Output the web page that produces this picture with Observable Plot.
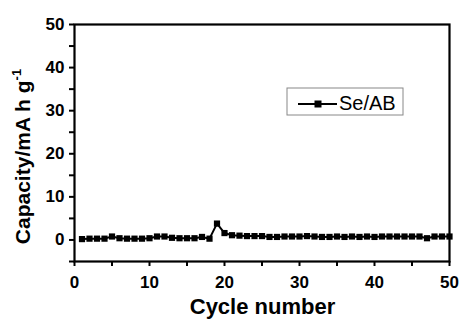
<!DOCTYPE html>
<html><head><meta charset="utf-8">
<script src="https://cdn.jsdelivr.net/npm/d3@7"></script>
<script src="https://cdn.jsdelivr.net/npm/@observablehq/plot@0.6"></script>
<style>
body{margin:0;background:#fff}
svg{font-family:"Liberation Sans",Arial,sans-serif;color:#000}
</style>
</head><body><div id="chart"></div>
<script>
const cycles = [1,2,3,4,5,6,7,8,9,10,11,12,13,14,15,16,17,18,19,20,21,22,23,24,25,26,27,28,29,30,31,32,33,34,35,36,37,38,39,40,41,42,43,44,45,46,47,48,49,50];
const capacity = [0.2,0.3,0.3,0.3,0.8,0.4,0.3,0.3,0.3,0.4,0.8,0.8,0.5,0.4,0.4,0.4,0.7,0.3,3.8,1.6,1.1,1.0,0.9,0.9,0.9,0.7,0.7,0.8,0.8,0.8,0.9,0.8,0.7,0.7,0.8,0.7,0.8,0.7,0.8,0.7,0.8,0.8,0.8,0.8,0.8,0.8,0.4,0.8,0.8,0.8];
const seriesName = "Se/AB";
const xTickValues = [0,5,10,15,20,25,30,35,40,45,50];
const yTickValues = [-5,0,5,10,15,20,25,30,35,40,45,50];
const xTitle = "Cycle number";
const yTitle = "Capacity/mA h g";
const yTitleSup = "-1";

const data = cycles.map((c, i) => ({cycle: c, cap: capacity[i]}));

const plot = Plot.plot({
  width: 461, height: 321,
  marginLeft: 74, marginRight: 12, marginTop: 24, marginBottom: 60,
  x: {domain: [0, 50]},
  y: {domain: [-5, 50]},
  marks: [
    Plot.frame({stroke: "#000", strokeWidth: 2.2}),
    Plot.line(data, {x: "cycle", y: "cap", stroke: "#000", strokeWidth: 2}),
    Plot.dot(data, {x: "cycle", y: "cap", symbol: "square", r: 3.5, fill: "#000", stroke: "none"}),
    Plot.axisX({ticks: xTickValues, tickFormat: d => d % 10 === 0 ? d : "", tickSize: 5, tickPadding: 9, strokeWidth: 2, fontSize: 17, fontWeight: "bold", fill: "#000", label: null}),
    Plot.axisY({ticks: yTickValues, tickFormat: d => (d >= 0 && d % 10 === 0) ? d : "", tickSize: 5, tickPadding: 5, strokeWidth: 2, fontSize: 17, fontWeight: "bold", fill: "#000", label: null})
  ]
});
document.getElementById("chart").appendChild(plot);

const svg = d3.select(plot);
svg.selectAll('g[aria-label$="tick label"]').style("font-weight", "bold").style("font-size", "17px");
svg.selectAll('g[aria-label$="tick label"] text').style("font-weight", "bold").style("fill", "#000");
const xs = plot.scale("x"), ys = plot.scale("y");
const x0 = xs.apply(0), x1 = xs.apply(50);
const yTop = ys.apply(50), yBot = ys.apply(-5);

// x title
svg.append("text")
  .attr("x", (x0 + x1) / 2 + 1).attr("y", 314)
  .attr("text-anchor", "middle")
  .attr("font-size", 22).attr("font-weight", "bold").attr("fill", "#000")
  .text(xTitle);

// y title
const yt = svg.append("text")
  .attr("transform", `translate(30,${(yTop + yBot) / 2 + 14}) rotate(-90)`)
  .attr("text-anchor", "middle")
  .attr("font-size", 21).attr("font-weight", "bold").attr("fill", "#000");
yt.append("tspan").text(yTitle);
yt.append("tspan").attr("font-size", 13).attr("dy", -9).text(yTitleSup);

// legend
const lg = svg.append("g");
lg.append("rect").attr("x", 287).attr("y", 88).attr("width", 116).attr("height", 27)
  .attr("fill", "#fff").attr("stroke", "#888").attr("stroke-width", 1);
lg.append("line").attr("x1", 298).attr("x2", 337).attr("y1", 104).attr("y2", 104)
  .attr("stroke", "#000").attr("stroke-width", 2);
lg.append("rect").attr("x", 314.5).attr("y", 100.5).attr("width", 7).attr("height", 7).attr("fill", "#000");
lg.append("text").attr("x", 339).attr("y", 110).attr("text-anchor", "start")
  .attr("font-size", 20).attr("font-weight", "normal").attr("fill", "#000").text(seriesName);
</script>
</body></html>
